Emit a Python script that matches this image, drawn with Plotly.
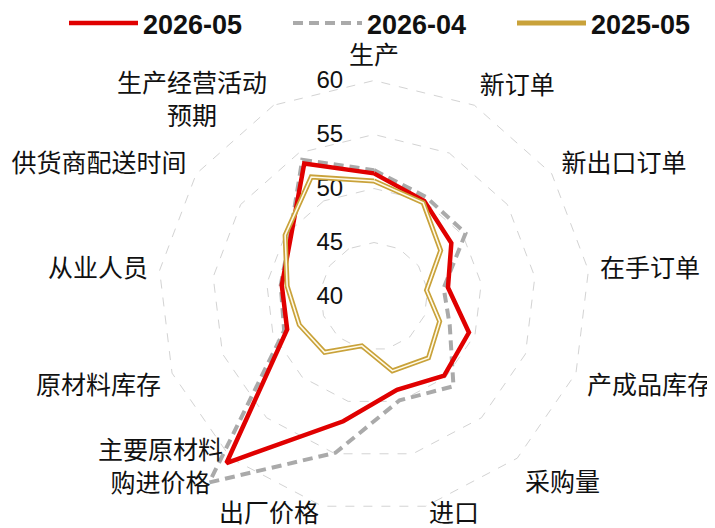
import math
import plotly.graph_objects as go

categories = ["生产", "新订单", "新出口订单", "在手订单", "产成品库存", "采购量", "进口",
              "出厂价格", "主要原材料购进价格", "原材料库存", "从业人员", "供货商配送时间",
              "生产经营活动预期"]
# labels drawn as annotations (wrapped or kept closer to the ring)
note_labels = {"进口": "进口", "出厂价格": "出厂价格",
               "主要原材料购进价格": "主要原材料<br>购进价格",
               "生产经营活动预期": "生产经营活动<br>预期"}
may_2026 = [51.4, 50.0, 48.7, 46.9, 49.4, 49.8, 48.9, 51.9, 60.6, 48.6, 48.6, 49.4, 53.9]
apr_2026 = [51.7, 50.4, 50.3, 46.5, 47.5, 51.1, 49.9, 54.9, 63.0, 48.9, 48.7, 49.5, 54.3]
may_2025 = [50.7, 49.8, 47.5, 44.9, 46.5, 47.6, 47.1, 44.7, 46.9, 47.4, 48.1, 50.0, 52.5]
radial_ticks = [40, 45, 50, 55, 60]

# ---- geometry (figure pixels; page body adds an 8px offset) ----
W, H = 715, 560
CX, CY = 366.0, 288.5          # polar centre
PX_PER_UNIT = 10.8             # 216 px from 40 to 60
RMIN = 40
RMAX_GRID = 60.3               # grid / label subplot
RMAX_DATA = 63.5               # data subplot (no clipping of values above 60)
CJK = "Noto Sans CJK SC, sans-serif"


def domain_for(rmax):
    r = PX_PER_UNIT * (rmax - RMIN)
    return dict(x=[(CX - r) / W, (CX + r) / W], y=[1 - (CY + r) / H, 1 - (CY - r) / H])


def closed(v):
    return list(v) + [v[0]]


theta = closed(categories)
ticktext = ["" if c in note_labels else c for c in categories]

fig = go.Figure()
# invisible carrier so the grid subplot knows its categories
fig.add_trace(go.Scatterpolar(r=closed(may_2025), theta=theta, mode="lines", subplot="polar",
                              line=dict(color="rgba(0,0,0,0)", width=0), showlegend=False,
                              hoverinfo="skip"))
fig.add_trace(go.Scatterpolar(r=closed(apr_2026), theta=theta, mode="lines", name="2026-04",
                              subplot="polar2",
                              line=dict(color="#AAAAAA", width=4, dash="10px,6px"), legendrank=2))
fig.add_trace(go.Scatterpolar(r=closed(may_2026), theta=theta, mode="lines", name="2026-05",
                              subplot="polar2",
                              line=dict(color="#E00000", width=4.5), legendrank=1))
fig.add_trace(go.Scatterpolar(r=closed(may_2025), theta=theta, mode="lines", name="2025-05",
                              subplot="polar2",
                              line=dict(color="#C9A23A", width=5), legendrank=3))
fig.add_trace(go.Scatterpolar(r=closed(may_2025), theta=theta, mode="lines", name="2025-05",
                              subplot="polar2",
                              line=dict(color="#FFFBEA", width=1.6), showlegend=False))

annotations = []
n = len(categories)
R60 = PX_PER_UNIT * (60 - RMIN)
for i, c in enumerate(categories):
    if c in note_labels:
        ang = math.radians(90 - i * 360.0 / n)
        d = R60 + 9 if math.sin(ang) > -0.9 else R60 + 5
        px = CX + d * math.cos(ang)
        py = CY - d * math.sin(ang)
        cs = math.cos(ang)
        xa = "center" if abs(cs) < 0.1 else ("left" if cs > 0 else "right")
        annotations.append(dict(text=note_labels[c], x=px / W, y=1 - py / H,
                                xref="paper", yref="paper", xanchor=xa, yanchor="middle",
                                align="center", showarrow=False,
                                font=dict(size=25, family=CJK, color="#111")))

hidden_radial = dict(range=[RMIN, RMAX_DATA], showline=False, showgrid=False,
                     showticklabels=False, ticks="")
hidden_angular = dict(direction="clockwise", rotation=90, showline=False, showgrid=False,
                      showticklabels=False, ticks="")

fig.update_layout(
    width=W, height=H,
    paper_bgcolor="white", plot_bgcolor="white",
    margin=dict(l=0, r=0, t=0, b=0, autoexpand=False),
    font=dict(family=CJK, color="#111"),
    showlegend=True,
    legend=dict(orientation="h", xref="paper", yref="paper",
                x=56 / W, xanchor="left", y=1 + 9 / H, yanchor="top",
                font=dict(family="Liberation Sans, Arial, sans-serif",
                          size=27, color="#111", weight="bold"),
                itemwidth=69, entrywidth=140, bgcolor="rgba(0,0,0,0)"),
    annotations=annotations,
    polar=dict(
        domain=domain_for(RMAX_GRID),
        bgcolor="white",
        gridshape="linear",
        radialaxis=dict(range=[RMIN, RMAX_GRID], tickvals=radial_ticks, angle=90, tickangle=90,
                        side="counterclockwise", showline=False,
                        ticks="outside", ticklen=22, tickcolor="rgba(0,0,0,0)",
                        tickfont=dict(size=24, family="Liberation Sans, Arial, sans-serif", color="#111"),
                        showgrid=True, gridcolor="#D3D3D3", griddash="dash", gridwidth=1),
        angularaxis=dict(direction="clockwise", rotation=90, showline=False,
                         showgrid=False, ticks="outside", ticklen=3,
                         tickcolor="rgba(0,0,0,0)",
                         tickvals=categories, ticktext=ticktext,
                         tickfont=dict(size=25, family=CJK, color="#111")),
    ),
    polar2=dict(
        domain=domain_for(RMAX_DATA),
        bgcolor="rgba(0,0,0,0)",
        gridshape="linear",
        radialaxis=hidden_radial,
        angularaxis=hidden_angular,
    ),
)

fig.write_html("out.html")
